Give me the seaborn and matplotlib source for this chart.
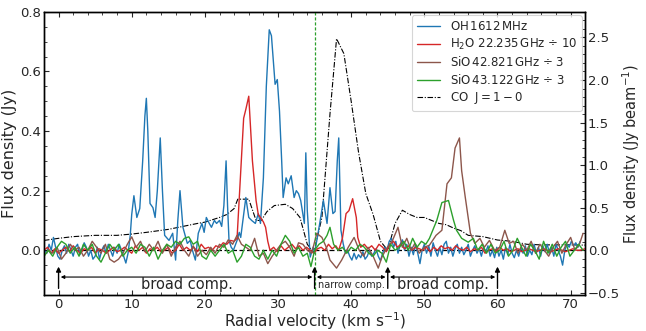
import numpy as np
import pandas as pd
import matplotlib
matplotlib.use("Agg")
import matplotlib.pyplot as plt
import seaborn as sns

# ---------------- data ----------------
oh_v = [-2.0,-1.6,-1.3,-1.0,-0.7,-0.4,-0.1,0.2,0.5,0.8,1.1,1.4,1.7,2.0,2.3,2.6,2.9,3.2,3.5,3.8,4.1,4.4,4.7,5.0,5.3,5.6,5.9,6.2,6.5,6.8,7.1,7.4,7.7,8.0,8.3,8.6,8.9,9.2,9.5,
        9.8,10.0,10.3,10.7,11.1,11.5,11.8,12.0,12.2,12.5,12.9,13.2,13.5,13.9,14.2,14.5,15.1,15.6,16.0,16.3,16.6,17.0,17.3,17.6,18.0,18.3,18.7,19.1,19.6,19.9,20.2,20.6,20.9,21.3,21.6,22.0,22.3,22.6,22.9,23.1,23.3,23.6,23.9,24.2,24.4,24.7,24.9,25.3,25.6,26.0,26.4,26.9,27.3,27.6,28.0,28.4,28.8,29.1,29.4,29.6,29.9,30.2,30.5,30.7,31.1,31.4,31.8,32.2,32.5,32.8,33.1,33.4,33.6,33.8,34.0,34.4,34.8,35.0,35.3,35.7,36.2,36.5,36.7,37.1,37.5,37.8,38.1,38.3,38.6,38.9,39.2,
        39.5,39.8,40.1,40.4,40.7,41.0,41.3,41.6,41.9,42.2,42.5,42.8,43.1,43.4,43.7,44.0,44.3,44.6,44.9,45.2,45.5,45.8,46.1,46.4,46.7,47.0,47.3,47.6,47.9,48.2,48.5,48.8,49.1,49.4,49.7,50.0,50.3,50.6,50.9,51.2,51.5,51.8,52.1,52.4,52.7,53.0,53.3,53.6,53.9,54.2,54.5,54.8,55.1,55.4,55.7,56.0,56.3,56.6,56.9,57.2,57.5,57.8,58.1,58.4,58.7,59.0,59.3,59.6,59.9,60.2,60.5,60.8,61.1,61.4,61.7,62.0,62.3,62.6,62.9,63.2,63.5,63.8,64.1,64.4,64.7,65.0,65.3,65.6,65.9,66.2,66.5,66.8,67.1,67.4,67.7,68.0,68.3,68.6,68.9,69.2,69.5,69.8,70.1,70.4,70.7,71.0,71.3]
oh_flux = [0.0,-0.01,0.02,0.0,0.043,0.01,-0.02,-0.03,0.0,0.015,-0.01,0.02,0.0,-0.02,0.01,0.02,-0.015,0.0,0.025,0.01,-0.02,0.0,-0.03,-0.02,0.01,-0.03,0.0,0.015,-0.01,0.02,0.0,-0.02,0.01,-0.01,0.02,0.0,-0.02,-0.043,-0.01,
           0.05,0.12,0.183,0.11,0.14,0.3,0.45,0.51,0.4,0.157,0.143,0.11,0.2,0.377,0.2,0.05,0.033,0.057,-0.033,0.1,0.2,0.077,0.05,0.023,0.033,0.0,-0.033,0.057,0.09,0.06,0.11,0.09,0.077,0.1,0.09,0.1,0.08,0.15,0.3,0.15,0.033,0.01,0.0,0.02,0.033,0.06,0.043,0.12,0.177,0.11,0.1,0.09,0.123,0.09,0.243,0.55,0.74,0.72,0.62,0.557,0.573,0.467,0.3,0.177,0.243,0.223,0.25,0.177,0.2,0.19,0.167,0.12,0.09,0.327,0.133,-0.023,0.01,-0.01,0.033,0.09,0.167,0.12,0.09,0.21,0.123,0.13,0.3,0.377,0.067,0.023,-0.01,
           0.0,-0.02,-0.033,-0.01,-0.03,-0.015,-0.025,-0.005,-0.03,-0.02,0.0,-0.02,-0.01,0.005,-0.02,-0.035,-0.01,0.01,0.0,0.03,0.04,0.01,0.03,-0.01,0.02,0.035,0.0,0.02,-0.02,0.01,-0.015,0.02,-0.01,-0.045,0.0,0.02,-0.01,0.015,-0.02,0.025,0.0,-0.02,0.01,-0.015,0.02,0.03,-0.01,0.01,-0.02,0.005,0.02,-0.01,0.01,-0.015,0.0,0.02,-0.02,0.0,0.015,-0.01,0.005,-0.02,0.01,-0.005,0.015,-0.02,0.0,-0.025,0.01,-0.02,0.0,-0.03,0.01,-0.015,0.02,-0.01,-0.025,0.0,-0.02,0.01,-0.01,0.015,-0.02,0.0,-0.015,0.02,-0.01,0.01,-0.02,0.015,-0.005,0.02,-0.01,0.01,-0.02,0.02,0.0,-0.02,-0.05,0.0,0.02,0.01,0.03,0.015,0.025,0.01,0.03]

h2o_v = [-2.0,-1.5,-1.0,-0.5,0.0,0.5,1.0,1.5,2.0,2.5,3.0,3.5,4.0,4.5,5.0,5.5,6.0,6.5,7.0,7.5,8.0,8.5,9.0,9.5,10.0,10.5,11.0,11.5,12.0,12.5,13.0,13.5,14.0,14.5,15.0,15.5,16.0,16.5,17.0,17.5,18.0,18.5,19.0,19.5,20.0,20.5,21.0,21.5,22.0,22.5,23.0,23.5,24.0,24.4,24.9,25.3,25.6,26.0,26.5,27.0,27.3,27.6,28.0,28.3,28.6,28.9,29.4,29.9,30.4,30.9,31.4,31.9,32.4,32.9,33.4,33.9,34.4,34.9,35.4,35.9,36.4,36.9,37.4,37.9,38.3,38.8,39.3,39.7,40.2,40.7,40.9,41.3,41.8,42.3,42.8,43.3,43.8,44.3,44.8,45.3,45.8,46.3,46.8,47.3,47.8,48.3,48.8,49.3,49.8,50.3,50.8,51.3,51.8,52.3,52.8,53.3,53.8,54.3,54.8,55.3,55.8,56.3,56.8,57.3,57.8,58.3,58.8,59.3,59.8,60.3,60.8,61.3,61.8,62.3,62.8,63.3,63.8,64.3,64.8,65.3,65.8,66.3,66.8,67.3,67.8,68.3,68.8,69.3,69.8,70.3,70.8,71.3,72.0]
h2o_flux = [0.0,0.01,-0.01,0.005,-0.01,0.0,0.01,-0.005,0.015,0.0,-0.01,0.005,0.0,0.01,-0.01,0.005,0.0,-0.01,0.0,0.01,-0.005,0.0,0.01,0.0,-0.01,0.015,0.0,0.01,-0.01,0.005,0.0,0.01,-0.005,0.0,0.01,-0.01,0.0,0.02,0.0,0.01,0.0,0.01,-0.005,0.02,0.005,0.01,0.0,0.015,0.01,0.025,0.02,0.033,0.03,0.04,0.267,0.443,0.473,0.517,0.3,0.167,0.12,0.11,0.095,0.077,0.03,0.0,0.01,-0.005,0.015,0.0,0.01,0.02,0.005,0.015,0.0,0.01,0.0,-0.01,0.005,0.01,0.0,0.02,0.005,0.015,0.0,0.04,0.123,0.133,0.173,0.11,0.043,0.01,0.02,0.005,0.015,0.0,0.02,0.01,-0.005,0.02,0.03,0.01,0.02,0.005,0.015,0.0,0.01,0.005,0.0,0.01,-0.005,0.01,0.0,0.015,0.005,0.01,0.0,0.015,0.005,0.0,0.01,-0.005,0.005,0.0,0.01,-0.01,0.0,0.005,-0.005,0.01,0.0,0.005,-0.005,0.0,0.005,-0.005,0.0,0.005,0.0,-0.005,0.0,0.005,0.0,-0.005,0.0,0.005,0.0,-0.005,0.0,0.005,0.0,0.0,0.005]

sio1_v = [-2.0,-1.4,-0.8,-0.2,0.4,1.0,1.6,2.2,2.8,3.4,4.0,4.6,5.2,5.8,6.4,7.0,7.6,8.2,8.8,9.4,10.0,10.6,11.2,11.8,12.4,13.0,13.6,14.2,14.8,15.4,16.0,16.6,17.2,17.8,18.4,19.0,19.6,20.2,20.8,21.4,22.0,22.6,23.2,23.8,24.4,25.0,25.6,26.2,26.8,27.4,28.0,28.6,29.2,29.8,30.4,31.0,31.6,32.2,32.8,33.4,34.0,34.6,35.3,36.0,36.6,37.1,38.0,38.7,39.6,40.4,41.1,41.7,42.3,43.0,43.7,44.2,44.8,45.6,46.4,47.0,47.6,48.2,48.7,49.3,50.0,50.7,51.6,52.4,53.1,53.7,54.2,54.8,55.1,55.6,56.3,56.9,57.6,58.2,58.9,59.6,60.3,61.0,61.6,62.2,62.8,63.4,64.0,64.6,65.2,65.8,66.4,67.0,67.6,68.2,68.8,69.4,70.0,70.6,71.2,71.7]
sio1_flux = [-0.02,0.0,-0.01,0.01,-0.03,-0.01,0.02,0.0,0.01,-0.02,0.0,0.03,0.01,-0.01,0.02,-0.03,-0.04,-0.03,-0.01,0.02,0.045,0.01,0.03,-0.005,0.02,0.0,0.03,-0.01,0.02,-0.02,0.01,0.03,0.0,-0.02,0.015,-0.02,0.0,-0.015,0.01,-0.01,0.02,0.01,0.035,0.02,0.05,0.02,0.01,0.0,0.04,-0.02,-0.01,-0.045,-0.02,0.0,0.02,0.03,0.01,-0.02,0.025,0.02,0.0,-0.01,0.057,0.043,0.01,-0.033,-0.06,-0.033,0.01,0.043,0.0,-0.02,0.01,-0.02,-0.06,-0.023,0.005,0.03,0.077,0.01,0.04,0.0,0.023,-0.01,0.01,0.017,0.05,0.067,0.223,0.243,0.343,0.377,0.267,0.177,0.057,0.023,0.04,0.01,0.033,0.0,0.01,0.067,0.023,0.03,-0.01,0.02,0.0,0.03,-0.01,0.02,0.0,-0.02,0.01,0.03,-0.01,0.02,0.043,0.0,0.02,0.057]

sio2_v = [-2.0,-1.4,-0.8,-0.2,0.4,1.0,1.6,2.2,2.8,3.4,4.0,4.6,5.2,5.8,6.4,7.0,7.6,8.2,8.8,9.4,10.0,10.6,11.2,11.8,12.4,13.0,13.6,14.2,14.8,15.4,16.0,16.6,17.2,17.8,18.4,19.0,19.6,20.2,20.8,21.4,22.0,22.6,23.2,23.8,24.4,25.0,25.6,26.2,26.8,27.4,28.0,28.6,29.2,29.8,30.4,31.0,31.6,32.2,32.8,33.4,34.0,34.5,35.0,35.6,36.2,36.7,37.1,37.6,38.2,38.8,39.4,40.0,40.6,41.2,41.8,42.4,43.0,43.6,44.2,44.8,45.4,46.0,46.6,47.2,47.8,48.4,49.0,49.6,50.2,50.7,51.7,52.4,53.3,54.0,54.4,55.1,56.0,56.7,57.3,57.9,58.5,59.1,59.7,60.3,60.9,61.5,62.1,62.7,63.3,63.9,64.5,65.1,65.7,66.3,66.9,67.5,68.1,68.7,69.3,69.9,70.5,71.1,71.7]
sio2_flux = [-0.02,0.0,-0.02,0.01,0.03,0.02,-0.01,0.01,-0.02,0.02,0.0,0.02,-0.02,-0.04,-0.01,0.02,0.0,0.02,-0.02,0.0,0.01,-0.01,0.02,0.01,-0.02,0.01,-0.03,0.0,0.02,0.01,0.03,0.02,0.04,0.045,0.02,0.03,-0.02,-0.03,0.0,-0.02,0.0,0.02,-0.01,0.0,-0.04,-0.02,0.02,0.01,-0.02,-0.03,0.0,-0.03,0.0,-0.02,0.02,0.05,0.03,-0.01,0.01,-0.02,-0.01,-0.055,0.0,0.02,0.03,0.05,0.077,0.02,0.0,0.01,-0.01,0.01,0.0,0.02,0.01,-0.01,-0.02,0.0,-0.01,-0.04,0.02,0.0,0.01,0.03,0.0,0.04,0.01,0.03,0.02,0.04,0.1,0.16,0.167,0.1,0.067,0.04,0.027,0.04,0.0,0.02,-0.01,0.02,-0.01,0.0,0.03,-0.02,0.0,0.04,0.01,-0.02,0.02,0.0,-0.03,0.03,-0.01,0.02,-0.02,0.01,0.03,-0.02,0.0,0.02,0.0]

co_v = [-2,0,2,5,8,10,12,15,17,19,20,22,23,24,24.5,26,27,27.7,28.5,29.5,31,32,33,34,34.9,36,37.1,38,39,40,41,42,43,44,45,46,47,48,49,50,51,52,53,54,55,56,58,60,62,64,66,68,70,72]
co_flux = [0.115,0.14,0.16,0.175,0.175,0.19,0.21,0.245,0.28,0.315,0.33,0.385,0.42,0.49,0.6,0.6,0.35,0.35,0.455,0.525,0.54,0.49,0.385,0.07,-0.03,0.385,1.6,2.485,2.31,1.75,1.155,0.665,0.42,0.105,0.0,0.315,0.47,0.42,0.385,0.385,0.35,0.315,0.3,0.26,0.23,0.175,0.16,0.12,0.105,0.07,0.063,0.063,0.063,0.06]

labels = [r"OH$\,$1612$\,$MHz",
          r"H$_2$O 22.235$\,$GHz $\div$ 10",
          r"SiO$\,$42.821$\,$GHz $\div$ 3",
          r"SiO$\,$43.122$\,$GHz $\div$ 3",
          r"CO  $\mathrm{J}=1-0$"]

comp_bounds = [0, 35, 45, 60]
comp_names = ["broad comp.", "narrow comp.", "broad comp."]

# ---------------- style ----------------
sns.set_style("ticks")
plt.rcParams["font.family"] = ["DejaVu Sans"]
plt.rcParams["mathtext.fontset"] = "dejavusans"
plt.rcParams["xtick.direction"] = "in"
plt.rcParams["ytick.direction"] = "in"

fig = plt.figure(figsize=(6.46, 3.31), dpi=100)
ax = fig.add_axes([0.068, 0.109, 0.838, 0.855])
ax2 = ax.twinx()

colors = ["#1f77b4", "#d62728", "#8c564b", "#2ca02c"]
series = [(oh_v, oh_flux), (h2o_v, h2o_flux), (sio1_v, sio1_flux), (sio2_v, sio2_flux)]
handles = []
for (v, f), c, lab in zip(series, colors, labels[:4]):
    df = pd.DataFrame({"v": v, "f": f})
    sns.lineplot(data=df, x="v", y="f", ax=ax, color=c, lw=1.0, sort=False,
                 estimator=None, label=lab, legend=False)
    handles.append(ax.lines[-1])

dfc = pd.DataFrame({"v": co_v, "f": co_flux})
sns.lineplot(data=dfc, x="v", y="f", ax=ax2, color="black", lw=0.8, sort=False,
             estimator=None, legend=False)
ax2.lines[-1].set_linestyle((0, (5, 1.5, 1, 1.5)))
handles.append(ax2.lines[-1])

ax.axhline(0, color="black", ls=(0, (4, 2)), lw=0.9, zorder=1)
ax.axvline(35, color="#2ca02c", ls=(0, (2.5, 1.5)), lw=0.9)

ax.set_xlim(-2, 72)
ax.set_ylim(-0.15, 0.8)
ax2.set_ylim(-0.525, 2.8)

ax.set_xticks([0, 10, 20, 30, 40, 50, 60, 70])
ax.set_xticks(np.arange(-2, 73, 2), minor=True)
ax.set_yticks([0.0, 0.2, 0.4, 0.6, 0.8])
ax.set_yticks(np.arange(-0.15, 0.81, 0.05), minor=True)
ax2.set_yticks([-0.5, 0.0, 0.5, 1.0, 1.5, 2.0, 2.5])
ax2.set_yticks(np.arange(-0.5, 2.81, 0.1), minor=True)

ax.tick_params(axis="x", which="both", top=True, direction="in", labelsize=9.5, pad=2)
ax.tick_params(axis="y", which="both", right=False, direction="in", labelsize=9.5, pad=2)
ax.tick_params(which="major", length=3.5)
ax.tick_params(which="minor", length=2)
ax2.tick_params(axis="y", which="both", direction="in", labelsize=9.5, pad=2)
ax2.tick_params(which="major", length=3.5)
ax2.tick_params(which="minor", length=2)
for a in (ax, ax2):
    for s in a.spines.values():
        s.set_linewidth(1.0)
        s.set_color("black")

ax.set_xlabel(r"Radial velocity (km s$^{-1}$)", fontsize=11, labelpad=0)
ax.set_ylabel("Flux density (Jy)", fontsize=11.5, labelpad=2)
ax2.set_ylabel(r"Flux density (Jy beam$^{-1}$)", fontsize=10.5, labelpad=0)

# component annotations
for xb in comp_bounds:
    ax.annotate("", xy=(xb, -0.055), xytext=(xb, -0.128),
                arrowprops=dict(arrowstyle="-|>", color="black", lw=1.0,
                                mutation_scale=7, shrinkA=0, shrinkB=0))
for i, name in enumerate(comp_names):
    x0, x1 = comp_bounds[i], comp_bounds[i + 1]
    ax.annotate("", xy=(x0 + 0.3, -0.09), xytext=(x1 - 0.3, -0.09),
                arrowprops=dict(arrowstyle="<|-|>", color="black", lw=0.8,
                                mutation_scale=5, shrinkA=0, shrinkB=0))
    fs = 7.0 if name.startswith("narrow") else 10.5
    ax.text((x0 + x1) / 2, -0.116, name, ha="center", va="center", fontsize=fs)

leg = ax.legend(handles=handles, labels=labels, loc="upper right", fontsize=8.5,
                frameon=True, handlelength=2.0, handletextpad=0.8,
                borderaxespad=0.3, labelspacing=0.3, borderpad=0.4)
leg.get_frame().set_linewidth(0.8)
ax.set_zorder(ax2.get_zorder() + 1)
ax.patch.set_visible(False)

fig.savefig("out.png", dpi=100)
